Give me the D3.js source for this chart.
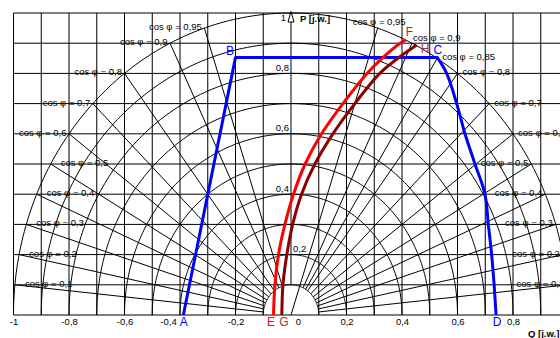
<!DOCTYPE html>
<html>
<head>
<meta charset="utf-8">
<script src="https://cdn.jsdelivr.net/npm/d3@7"></script>
<style>
  html, body { margin: 0; padding: 0; background: #fff; overflow: hidden; }
  svg { display: block; }
  text { font-family: "Liberation Sans", Arial, sans-serif; }
</style>
</head>
<body>
<svg id="chart" width="560" height="338"></svg>
<script>
// Reactive power Q and active power P, both in per-unit [j.w.]
const qTicks = [-1, -0.8, -0.6, -0.4, -0.2, 0, 0.2, 0.4, 0.6, 0.8];
const qTickLabels = ["-1", "-0,8", "-0,6", "-0,4", "-0,2", "0", "0,2", "0,4", "0,6", "0,8"];
const pTicks = [0.2, 0.4, 0.6, 0.8, 1];
const pTickLabels = ["0,2", "0,4", "0,6", "0,8", "1"];

// Apparent power circles S = const
const radii = [0.1, 0.2, 0.3, 0.4, 0.5, 0.6, 0.7, 0.8, 0.9, 1.0];

// Power factor rays
const cosLeft = [0.95, 0.9, 0.8, 0.7, 0.6, 0.5, 0.4, 0.3, 0.2, 0.1];
const cosRight = [0.95, 0.9, 0.85, 0.8, 0.7, 0.6, 0.5, 0.4, 0.3, 0.2, 0.1];

// Operating limit A-B-C-D
const limitQ = [-0.388, -0.2, 0.527, 0.561, 0.597, 0.627, 0.663, 0.699, 0.711, 0.723, 0.732, 0.739];
const limitP = [0, 0.853, 0.853, 0.8, 0.7, 0.6, 0.5, 0.4, 0.3, 0.2, 0.1, 0];
const limitLetters = ["A", "B", "C", "D"];

// Curve E-F
const curveEFQ = [-0.063, -0.058, -0.045, -0.022, 0.009, 0.051, 0.110, 0.187, 0.274, 0.328, 0.393, 0.414];
const curveEFP = [0, 0.1, 0.2, 0.3, 0.4, 0.5, 0.6, 0.7, 0.8, 0.85, 0.9, 0.911];
const curveEFLetters = ["E", "F"];

// Curve G-H
const curveGHQ = [-0.033, -0.029, -0.015, 0.006, 0.038, 0.086, 0.151, 0.230, 0.320, 0.385, 0.453];
const curveGHP = [0, 0.1, 0.2, 0.3, 0.4, 0.5, 0.6, 0.7, 0.8, 0.85, 0.894];
const curveGHLetters = ["G", "H"];

const svg = d3.select("#chart");
const x = d3.scaleLinear().domain([-1, 1]).range([13.5, 568.5]);
const y = d3.scaleLinear().domain([0, 1]).range([315, 13]);

const ink = "#000";
const font = 9.5;

// ---- grid ----
const grid = svg.append("g").attr("stroke", ink).attr("stroke-width", 1).attr("fill", "none");
x.ticks(20).forEach(q => {
  const p0 = Math.abs(q) < 1e-9 ? 0.1 : 0;
  grid.append("line")
    .attr("x1", x(q)).attr("x2", x(q))
    .attr("y1", y(p0)).attr("y2", y(1));
});
y.ticks(10).forEach(p => {
  grid.append("line")
    .attr("x1", x(-1)).attr("x2", x(1))
    .attr("y1", y(p)).attr("y2", y(p));
});

// ---- S circles ----
const angles = d3.range(-90, 90.01, 1).map(a => a * Math.PI / 180);
const arcs = svg.append("g").attr("stroke", ink).attr("stroke-width", 1).attr("fill", "none");
radii.forEach(r => {
  const line = d3.line()
    .x(a => x(r * Math.sin(a)))
    .y(a => y(r * Math.cos(a)));
  arcs.append("path").attr("d", line(angles));
});

// ---- cos phi rays with labels ----
const rays = svg.append("g").attr("stroke", ink).attr("stroke-width", 1);
const rayLabels = svg.append("g").attr("font-size", font).attr("fill", ink);

function ray(c, side) {
  const s = Math.sqrt(1 - c * c);
  const r0 = (side > 0 && c === 0.95) ? 0 : 0.1;
  rays.append("line")
    .attr("x1", x(side * s * r0)).attr("y1", y(c * r0))
    .attr("x2", x(side * s)).attr("y2", y(c));
  const ex = x(side * s), ey = y(c);
  let anchor, tx, ty;
  if (side < 0) {
    if (c >= 0.6) { anchor = "end"; tx = ex - 2.5; ty = ey + 2; }
    else { anchor = "start"; tx = ex + 10; ty = ey + 2; }
  } else {
    if (c === 0.95) { anchor = "middle"; tx = ex + 1.5; ty = ey - 3; }
    else if (c === 0.9) { anchor = "start"; tx = ex + 1; ty = ey - 2.5; }
    else if (c >= 0.6) { anchor = "start"; tx = ex + 5; ty = ey + 2; }
    else { anchor = "end"; tx = ex - 3; ty = ey + 2; }
  }
  rayLabels.append("text")
    .attr("x", tx).attr("y", ty)
    .attr("text-anchor", anchor)
    .text("cos \u03c6 = " + String(c).replace(".", ","));
}
cosLeft.forEach(c => ray(c, -1));
cosRight.forEach(c => ray(c, 1));

// ---- curves ----
const pts = (qs, ps) => qs.map((q, i) => [q, ps[i]]);
const lin = d3.line().x(d => x(d[0])).y(d => y(d[1]));
const smooth = d3.line().x(d => x(d[0])).y(d => y(d[1])).curve(d3.curveCatmullRom.alpha(0.5));

const limitPts = pts(limitQ, limitP);
svg.append("path")
  .attr("d", lin(limitPts.slice(0, 3)) + smooth(limitPts.slice(2)).replace(/^M/, "L"))
  .attr("fill", "none").attr("stroke", "#0000ff").attr("stroke-width", 3)
  .attr("stroke-linejoin", "round");

const efPts = pts(curveEFQ, curveEFP);
svg.append("path").attr("d", smooth(efPts))
  .attr("fill", "none").attr("stroke", "#ff0000").attr("stroke-width", 3);

const ghPts = pts(curveGHQ, curveGHP);
svg.append("path").attr("d", smooth(ghPts))
  .attr("fill", "none").attr("stroke", "#8b0000").attr("stroke-width", 3);

// ---- point letters ----
const letters = svg.append("g").attr("font-size", 12).attr("text-anchor", "middle");
function letter(t, p, dx, dy, color) {
  letters.append("text")
    .attr("x", x(p[0]) + dx).attr("y", y(p[1]) + dy)
    .attr("fill", color).text(t);
}
const L = limitPts.length - 1;
letter(limitLetters[0], limitPts[0], 0.5, 10.7, "#0000ff");
letter(limitLetters[1], limitPts[1], -5.5, -2.5, "#0000ff");
letter(limitLetters[2], limitPts[2], 0.5, -3.5, "#0000ff");
letter(limitLetters[3], limitPts[L], 1, 10.5, "#0000ff");
letter(curveEFLetters[0], efPts[0], -2.5, 10.5, "#ff0000");
letter(curveEFLetters[1], efPts[efPts.length - 1], 3.5, -3.5, "#ff0000");
letter(curveGHLetters[0], ghPts[0], 2, 10.5, "#a33333");
letter(curveGHLetters[1], ghPts[ghPts.length - 1], 8.5, 8, "#a33333");

// ---- Q axis labels ----
const nudgeQ = { "-0,4": -12, "0": 7 };
const xAxis = svg.append("g")
  .attr("transform", `translate(0,${y(0)})`)
  .call(d3.axisBottom(x).tickValues(qTicks)
    .tickFormat((d, i) => qTickLabels[i]).tickSize(0).tickPadding(3));
xAxis.select(".domain").remove();
xAxis.attr("font-family", null).attr("font-size", font);
xAxis.selectAll("text").attr("fill", ink)
  .attr("dx", function () { return nudgeQ[d3.select(this).text()] || 0; });

// ---- P axis labels ----
const yAxis = svg.append("g")
  .attr("transform", `translate(${x(0)},0)`)
  .call(d3.axisLeft(y).tickValues(pTicks)
    .tickFormat((d, i) => pTickLabels[i]).tickSize(0).tickPadding(2));
yAxis.select(".domain").remove();
yAxis.attr("font-family", null).attr("font-size", font);
yAxis.selectAll("text").attr("fill", ink).attr("dy", "-0.3em")
  .each(function (d) {
    const t = d3.select(this);
    if (d === 0.2) t.attr("text-anchor", "start").attr("x", 2);
    if (d === 1) t.attr("x", -5).attr("dy", "0.74em");
  });

// ---- P axis arrow and unit titles ----
const axX = x(0), axTop = y(1);
svg.append("path")
  .attr("d", `M${axX},${axTop - 1.5}L${axX + 3},${axTop + 9}L${axX - 3},${axTop + 9}Z`)
  .attr("fill", "#fff").attr("stroke", ink).attr("stroke-width", 1);

svg.append("text")
  .attr("x", axX + 9).attr("y", axTop + 8.5)
  .attr("font-size", font).attr("font-weight", "bold").attr("fill", ink)
  .text("P [j.w.]");

svg.append("text")
  .attr("x", 528).attr("y", 337)
  .attr("font-size", font).attr("font-weight", "bold").attr("fill", ink)
  .text("Q [j.w.]");
</script>
</body>
</html>
